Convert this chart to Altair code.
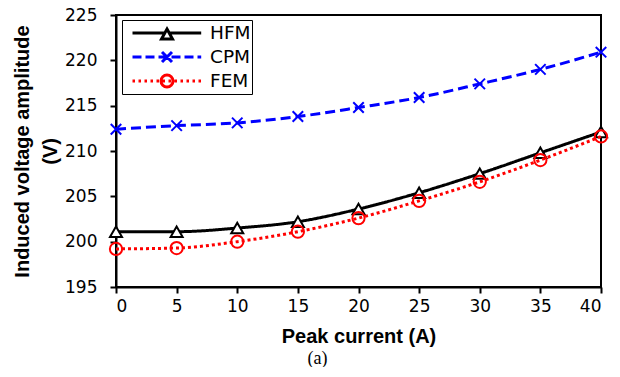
import altair as alt
import pandas as pd

current = [0, 5, 10, 15, 20, 25, 30, 35, 40]
hfm = [201.1, 201.1, 201.5, 202.2, 203.6, 205.4, 207.5, 209.8, 212.1]
cpm = [212.4, 212.8, 213.1, 213.8, 214.8, 215.9, 217.4, 219.0, 220.9]
fem = [199.2, 199.3, 200.0, 201.1, 202.6, 204.5, 206.6, 209.0, 211.6]
series = ["HFM", "CPM", "FEM"]
colors = ["#000000", "#0000FF", "#FF0000"]
x_ticks = [0, 5, 10, 15, 20, 25, 30, 35, 40]
y_ticks = [195, 200, 205, 210, 215, 220, 225]

rows = []
for name, vals in zip(series, [hfm, cpm, fem]):
    for c, v in zip(current, vals):
        rows.append({"current": c, "voltage": v, "series": name})
df = pd.DataFrame(rows)

# ---- legend symbol paths (line sample + marker), in units of 40 px ----
S = 40.0
def f(v):
    return f"{v / S:.4f}"

def segs(x0, x1, dash, gap):
    out = []
    x = x0
    while x < x1:
        a, b = x, min(x + dash, x1)
        out.append(f"M{f(a)},0H{f(b)}")
        x += dash + gap
    return "".join(out)

LX0, LX1, MC = -32.0, 36.7, 2.5
hfm_path = (f"M{f(LX0)},0H{f(MC - 2.2)}M{f(MC + 2.2)},0H{f(LX1)}"
            f"M{f(MC)},{f(-4)}L{f(MC + 5.5)},{f(6)}L{f(MC - 5.5)},{f(6)}Z")
cpm_path = (segs(LX0, LX1, 9, 4)
            + f"M{f(MC - 5)},{f(-5)}L{f(MC + 5)},{f(5)}M{f(MC - 5)},{f(5)}L{f(MC + 5)},{f(-5)}")
r = 6.0
fem_path = (segs(LX0, LX1, 2.5, 3.5)
            + f"M{f(MC + r)},0A{f(r)},{f(r)} 0 1 1 {f(MC - r)},0A{f(r)},{f(r)} 0 1 1 {f(MC + r)},0Z")
legend_paths = [hfm_path, cpm_path, fem_path]

TICKFONT = "DejaVu Sans"
TITLEFONT = "Liberation Sans"

x_enc = alt.X("current:Q", scale=alt.Scale(domain=[0, 40], nice=False),
              axis=alt.Axis(values=x_ticks, title="Peak current (A)",
                            labelPadding=5, titlePadding=12))
y_enc = alt.Y("voltage:Q", scale=alt.Scale(domain=[195, 225], nice=False, zero=False),
              axis=alt.Axis(values=y_ticks, title=["Induced voltage amplitude", "(V)"],
                            labelPadding=13, titlePadding=4, titleLineHeight=28))

base = alt.Chart(df).encode(x=x_enc, y=y_enc)

dashes = [[1, 0], [10, 5], [3, 3]]
marker_shapes = ["triangle-up", "M-1,-1L1,1M-1,1L1,-1", "circle"]
marker_fills = ["white", "transparent", "transparent"]
marker_sizes = [144, 110, 150]

layers = []
for name, col, dsh, shp, fil, sz in zip(series, colors, dashes, marker_shapes, marker_fills, marker_sizes):
    sub = base.transform_filter(alt.datum.series == name)
    layers.append(sub.mark_line(interpolate="monotone", stroke=col, strokeWidth=3, strokeDash=dsh))
    layers.append(sub.mark_point(shape=shp, stroke=col, fill=fil, size=sz, strokeWidth=2, opacity=1))

legend_obj = alt.Legend(
    title=None, orient="none", legendX=6, legendY=5, padding=1,
    symbolSize=(2 * S) ** 2, clipHeight=24, rowPadding=0,
    symbolStrokeWidth=3, symbolFillColor="white", symbolOpacity=1,
    labelFont=TICKFONT, labelFontSize=18.5, labelColor="black", labelOffset=4,
    strokeColor="black", fillColor="white",
)

leg = base.mark_point(opacity=0, filled=False).encode(
    stroke=alt.Stroke("series:N", scale=alt.Scale(domain=series, range=colors), legend=legend_obj),
    shape=alt.Shape("series:N", scale=alt.Scale(domain=series, range=legend_paths), legend=legend_obj),
)
layers.append(leg)

chart = (
    alt.layer(*layers)
    .properties(
        width=485, height=272,
        padding={"left": 108, "top": 7, "right": 11, "bottom": 80},
        autosize=alt.AutoSizeParams(type="none"),
        title=alt.TitleParams("(a)", orient="bottom", font="Liberation Serif", fontSize=18,
                              fontWeight="normal", color="black", dx=-41, offset=4),
    )
    .configure_view(stroke="black", strokeWidth=2)
    .configure_axis(
        domainColor="black", domainWidth=2, tickColor="black", tickWidth=2, tickSize=6,
        labelFont=TICKFONT, labelFontSize=17, labelColor="black",
        titleFont=TITLEFONT, titleFontSize=20, titleFontWeight="bold", titleColor="black",
        grid=False,
    )
)

chart.save("out.html", embed_options={"renderer": "svg", "actions": False})
